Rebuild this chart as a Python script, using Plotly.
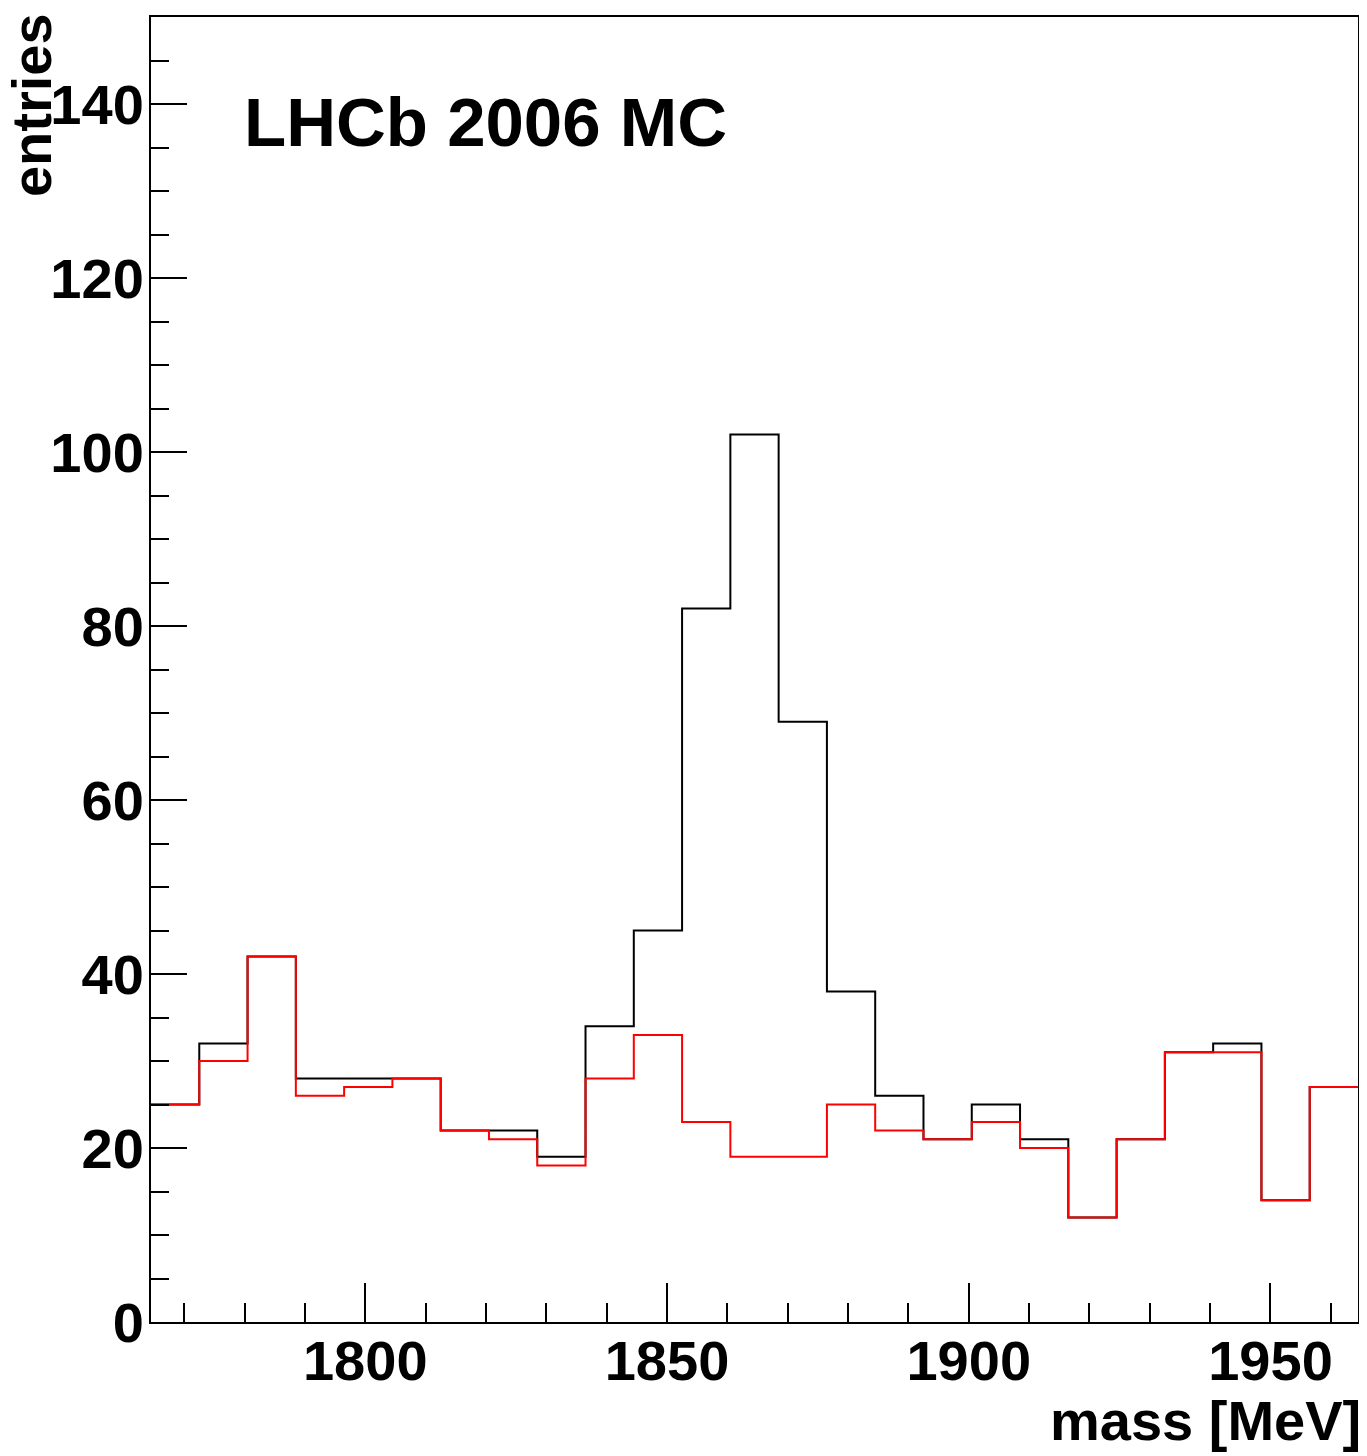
import numpy as np
import plotly.graph_objects as go

# Histogram binning (MeV)
x_low = 1764.5
bin_width = 8.0
n_bins = 25

# Bin contents
all_entries = [25, 32, 42, 28, 28, 28, 22, 22, 19, 34, 45, 82, 102, 69, 38,
               26, 21, 25, 21, 12, 21, 31, 32, 14, 27]
bkg_entries = [25, 30, 42, 26, 27, 28, 22, 21, 18, 28, 33, 23, 19, 19, 25,
               22, 21, 23, 20, 12, 21, 31, 31, 14, 27]

edges = x_low + bin_width * np.arange(n_bins + 1)

FONT = "Liberation Sans"

fig = go.Figure()
fig.add_trace(go.Scatter(x=edges, y=all_entries + [all_entries[-1]], mode="lines",
                         line=dict(color="black", width=2, shape="hv"),
                         showlegend=False))
fig.add_trace(go.Scatter(x=edges, y=bkg_entries + [bkg_entries[-1]], mode="lines",
                         line=dict(color="#ff0000", width=2, shape="hv"),
                         showlegend=False))

fig.update_layout(
    width=1359, height=1448,
    margin=dict(l=143, r=8, t=7, b=134),
    plot_bgcolor="white", paper_bgcolor="white",
    font=dict(family=FONT, color="black"),
)
fig.update_xaxes(
    range=[x_low, x_low + bin_width * n_bins],
    showgrid=False, zeroline=False,
    showline=True, linecolor="black", linewidth=2, mirror=True,
    ticks="inside", ticklen=39, tickwidth=2, tickcolor="black",
    tick0=1800, dtick=50, ticklabelstandoff=-11,
    minor=dict(ticks="inside", ticklen=19, tickwidth=2, tickcolor="black", tick0=1800, dtick=10),
    tickfont=dict(family=FONT, size=56, color="black", weight="bold"),
)
fig.update_yaxes(
    range=[0, 150],
    showgrid=False, zeroline=False,
    showline=True, linecolor="black", linewidth=2, mirror=True,
    ticks="inside", ticklen=36, tickwidth=2, tickcolor="black",
    tick0=0, dtick=20, ticklabelstandoff=-6,
    minor=dict(ticks="inside", ticklen=18, tickwidth=2, tickcolor="black", tick0=0, dtick=5),
    tickfont=dict(family=FONT, size=56, color="black", weight="bold"),
)

fig.add_annotation(text="LHCb 2006 MC", xref="paper", yref="paper",
                   x=(242 - 151) / 1208, y=(1322 - 121) / 1307,
                   xanchor="left", yanchor="middle", showarrow=False,
                   font=dict(family=FONT, size=69, color="black", weight="bold"))
fig.add_annotation(text="entries", xref="paper", yref="paper",
                   x=(31 - 151) / 1208, y=(1322 - 9) / 1307, textangle=-90,
                   xanchor="center", yanchor="top", showarrow=False,
                   font=dict(family=FONT, size=56, color="black", weight="bold"))
fig.add_annotation(text="mass [MeV]", xref="paper", yref="paper",
                   x=(1364 - 151) / 1208, y=-(1421 - 1322) / 1307,
                   xanchor="right", yanchor="middle", showarrow=False,
                   font=dict(family=FONT, size=56, color="black", weight="bold"))

fig.write_html("out.html")
